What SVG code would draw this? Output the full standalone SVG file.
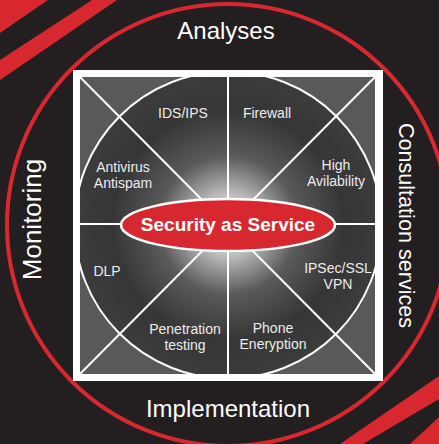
<svg xmlns="http://www.w3.org/2000/svg" width="439" height="444" viewBox="0 0 439 444">
  <defs>
    <style>
      .stripe { fill: #d8282f; }
      .ring { fill: none; stroke: #d8282f; stroke-width: 4; }
      .rule { stroke: #ffffff; stroke-width: 2; fill: none; }
      .outer { font-family: "Liberation Sans", Arial, sans-serif; fill: #ffffff; font-size: 24px; text-anchor: middle; }
      .seg { font-family: "Liberation Sans", Arial, sans-serif; fill: #ececec; font-size: 14px; text-anchor: middle; }
      .core { font-family: "Liberation Sans", Arial, sans-serif; fill: #ffffff; font-size: 19px; font-weight: bold; text-anchor: middle; }
    </style>
    <radialGradient id="glow" cx="228" cy="225" r="154" gradientUnits="userSpaceOnUse">
      <stop offset="0" stop-color="#f2f2f2"/>
      <stop offset="0.2" stop-color="#bdbdbd"/>
      <stop offset="0.45" stop-color="#5a5a5a"/>
      <stop offset="0.75" stop-color="#363636"/>
      <stop offset="1" stop-color="#3c3c3d"/>
    </radialGradient>
    <clipPath id="panel">
      <rect x="80" y="77" width="295" height="297"/>
    </clipPath>
  </defs>

  <!-- backdrop -->
  <rect x="0" y="0" width="439" height="444" fill="#231f20"/>

  <!-- corner stripes -->
  <polygon class="stripe" points="0,0 48,0 0,33"/>
  <polygon class="stripe" points="0,60 92,0 117,0 0,80"/>
  <polygon class="stripe" points="439,376 340,444 363,444 439,399"/>
  <polygon class="stripe" points="439,417 410,444 439,444"/>

  <!-- outer ring -->
  <circle class="ring" cx="228" cy="225" r="221"/>

  <!-- framed panel -->
  <g id="panel-frame">
    <rect x="73" y="70" width="310" height="311" fill="#ffffff"/>
    <rect x="80" y="77" width="295" height="297" fill="#58595b"/>
    <circle cx="228" cy="225" r="153.5" fill="url(#glow)" clip-path="url(#panel)"/>
  </g>

  <!-- dividing lines -->
  <g id="connectors" clip-path="url(#panel)">
    <circle class="rule" cx="228" cy="225" r="153.5"/>
    <line class="rule" x1="228" y1="77" x2="228" y2="374"/>
    <line class="rule" x1="80" y1="224" x2="375" y2="224"/>
    <line class="rule" x1="80" y1="77" x2="375" y2="374"/>
    <line class="rule" x1="375" y1="77" x2="80" y2="374"/>
  </g>

  <!-- segments -->
  <g id="ids-ips"><text class="seg" x="183" y="118">IDS/IPS</text></g>
  <g id="firewall"><text class="seg" x="267" y="118">Firewall</text></g>
  <g id="antivirus"><text class="seg" x="123" y="172">Antivirus</text><text class="seg" x="123" y="188">Antispam</text></g>
  <g id="high-availability"><text class="seg" x="336" y="170">High</text><text class="seg" x="336" y="186">Avilability</text></g>
  <g id="dlp"><text class="seg" x="107" y="276">DLP</text></g>
  <g id="vpn"><text class="seg" x="338" y="273">IPSec/SSL</text><text class="seg" x="338" y="289">VPN</text></g>
  <g id="penetration"><text class="seg" x="185" y="334">Penetration</text><text class="seg" x="185" y="350">testing</text></g>
  <g id="phone"><text class="seg" x="273" y="333">Phone</text><text class="seg" x="273" y="349">Eneryption</text></g>

  <!-- centre -->
  <g id="security-as-service">
    <ellipse cx="228" cy="225" rx="107" ry="26" fill="#d8282f" stroke="#ffffff" stroke-width="2.5"/>
    <text class="core" x="228" y="231">Security as Service</text>
  </g>

  <!-- ring labels -->
  <g id="analyses"><text class="outer" x="226" y="39">Analyses</text></g>
  <g id="implementation"><text class="outer" x="228" y="417">Implementation</text></g>
  <g id="monitoring"><text class="outer" style="font-size:26px" transform="translate(41 219.5) rotate(-90)">Monitoring</text></g>
  <g id="consultation"><text class="outer" style="font-size:21.6px" transform="translate(398.5 225.5) rotate(90)">Consultation services</text></g>
</svg>
